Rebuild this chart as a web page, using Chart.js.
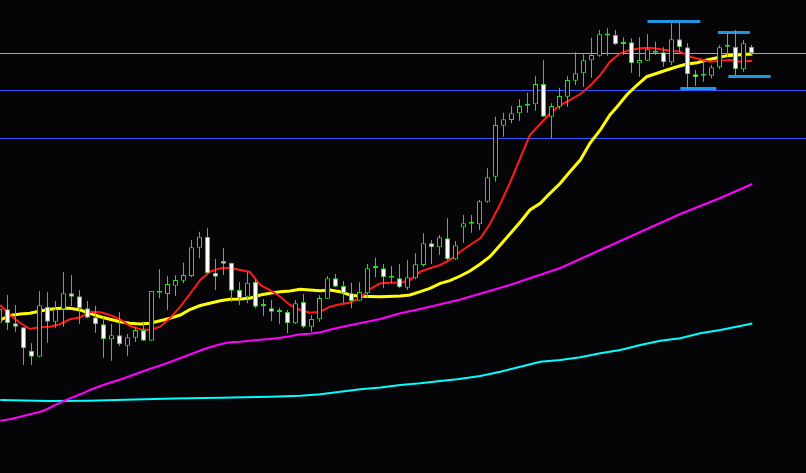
<!DOCTYPE html>
<html lang="en">
<head>
  <meta charset="UTF-8">
  <title>Candles</title>
  <script src="https://cdn.jsdelivr.net/npm/chart.js"></script>
  <style>
    html, body { margin: 0; padding: 0; background: #050508; }
    #wrap { width: 806px; height: 473px; }
  </style>
</head>
<body>
  <div id="wrap"><canvas id="myChart"></canvas></div>
  <script>
    // price units, bar index 0..94 (left to right)
    const opens = [
      150.3,163.7,149.7,145.7,122.3,116.3,166.3,151.3,163.7,179.7,
      176.7,164.7,155.7,148.7,133.7,137.7,127.3,135.3,143,132.3,
      180.3,179,187.3,192.3,197,225.3,236.3,200.3,212,210.3,
      183,176.3,191.3,167,164.7,161,161,149.7,171,146.3,
      153.7,174.3,194.7,187,179.7,172.3,179.7,205,204.7,195.3,
      194.7,185.3,194.7,208,229.7,225.7,234.7,213.7,245.7,249.3,
      248.7,271.3,296.3,347.3,353,359.7,367.3,368.7,389,356.3,
      366.3,376.3,392.3,399.7,412.7,417.3,437.5,438,431,430.7,
      409.7,412.3,422.3,420.7,410.7,433.7,425.7,398.7,397.3,397.3,
      405.7,426.3,426.3,403.7,426.3
    ];
    const highs = [
      168,178,168,145.7,129.7,182,181,172,201,198,
      183,172,167,156.3,149,160.7,139,145.7,151.3,182,
      203.7,197,197.7,210.3,233,241.3,245,214,225,210.3,
      191,200.7,193.7,174,173,165.3,163,173,179,158,
      177.7,197,199,192,190.3,190.7,209,215.3,209,207,
      209,213,219.7,239.7,233,238,254.7,232,258,258,
      273,304.7,356.3,360.3,367,373.7,380.3,397,413,369.7,
      385.3,397,420.7,418.7,435.3,443,444.7,443,435.7,434.7,
      435.7,439,431.3,425.7,449.7,450.3,429.7,403,412.3,408,
      428,439.7,443,433,428
    ];
    const lows = [
      145,143,141.3,108,108,115.7,130.3,145.3,146.3,167,
      149,154.7,140.3,115.3,112.3,127,117,131,132.3,132.3,
      174.7,163,177,189.7,195.7,214.7,199.7,183,198,171.3,
      168,169.7,164.7,157,152,149,139.7,149,144.7,141.3,
      151.3,174,186.3,170.3,164.7,172,175.3,195.7,184.7,189.7,
      184.7,183,193.7,206.3,209,218,213,213,230.3,240.3,
      243,270.3,291.3,336.3,349.7,352.3,360.3,362.3,356.3,334.7,
      363.7,366.3,388,386.3,395.3,416.3,417.3,428,418,400.3,
      396.3,412.3,418,406.3,408,421.3,384,387,391.3,394.7,
      403.7,416.3,398,401.3,418
    ];
    const closes = [
      164,149.7,146.3,124.7,116.3,167.7,151.3,163.7,179.7,176.3,
      164.7,155.3,148.7,133.7,137.7,128.7,135.7,143,132.3,182,
      180.3,189,193,198,225.7,236.3,199.7,196.3,209.3,182.3,
      174.7,190.3,166.3,167,161.3,162,149.7,169.7,146.3,154,
      175,194.7,186.3,179.7,172,181,204.7,205,195.7,195.3,
      185.7,195.7,208.7,229.7,225.7,235.7,213.7,227.7,249.7,249.3,
      271.7,295.7,348,353.7,359.7,367,367.3,389,356.3,367,
      377,393,399.7,412.7,418,438.7,437.5,428.7,428.7,409.7,
      413,423.7,420.3,410.7,433.7,425.7,398.7,395.7,397.3,405.7,
      425.7,426.3,403.7,429.7,419.7
    ];

    // moving averages: [bar index, price]
    const maFast = [
      [0.1,168],[1.3,158],[2.6,150],[3.8,144],[5.1,146],[6.3,146.3],[7.6,149],[8.8,153.7],
      [10.1,155.7],[11.3,161.3],[12.6,160.7],[13.8,158],[15.1,153.7],[16.3,147],[17.6,143.7],
      [18.8,143],[20.1,146.3],[21.3,154.7],[22.6,166.3],[23.8,179],[25.1,193],[26.3,201.3],
      [27.6,204.7],[28.8,205.3],[30.1,203],[31.3,201],[32.6,188],[33.8,183],[35.1,176.3],
      [36.3,168],[37.6,163],[38.8,160.3],[40.1,161.3],[41.3,166.3],[42.6,168.7],[43.8,170.3],
      [45.1,175],[46.3,184],[47.6,189.7],[48.8,190.3],[50.1,190.3],[51.3,193],[52.6,201.3],
      [53.8,204.7],[55.1,208],[56.3,213],[57.6,221.3],[58.8,228],[60.1,234.7],[61.3,249],
      [62.6,269],[63.8,290],[65.1,315],[66.3,338],[67.6,349.3],[68.8,359.3],[70.1,368],
      [71.3,373],[72.6,379],[73.8,387],[75.1,398],[76.3,411.3],[77.6,419.7],[78.8,423],
      [80.1,424.7],[81.3,425.3],[82.6,423.7],[83.8,422.3],[85.1,421.3],[86.3,416.3],
      [87.6,413.7],[88.8,411.3],[90.1,412.3],[91.3,413],[92.6,411.3],[94.1,412.3]
    ];
    const maMid = [
      [0.1,153],[1.3,157.5],[2.6,159],[3.8,159.7],[5.1,162],[6.3,163.7],[7.6,164.7],[8.8,164.7],
      [10.1,163],[11.3,159.7],[12.6,156.3],[13.8,153.7],[15.1,151.3],[16.3,149.7],[17.6,149],
      [18.8,149.7],[20.1,152.3],[21.3,154.7],[22.6,158],[23.8,163.5],[25.1,167.5],[26.3,169.7],
      [27.6,172.3],[28.8,173.7],[30.1,174],[31.3,174.7],[32.6,178],[33.8,179.7],[35.1,181.3],
      [36.3,182],[37.6,183.7],[38.8,183],[40.1,182.3],[41.3,183],[42.6,181.3],[43.8,178],
      [45.1,176.7],[47.6,176.3],[50.1,177],[51.3,178],[52.6,181.3],[53.8,184.7],[55.1,189.7],
      [56.3,192.3],[57.6,197],[58.8,202],[60.1,209],[61.3,216.3],[62.6,228],[63.8,239],
      [65.1,251],[66.3,263],[67.6,269.7],[68.8,279.7],[70.1,289.7],[71.3,301.3],[72.6,313],
      [73.8,329.7],[75.1,343],[76.3,358],[77.2,366.3],[78.4,378],[79.7,388],[80.9,396.3],
      [82.2,399.7],[83.4,403],[84.7,406.3],[85.9,409],[87.2,410.3],[88.4,413],[89.7,415.3],
      [90.9,417.3],[92.2,418],[93.4,418.7],[94.1,418.7]
    ];
    const maSlow = [
      [0.1,52.3],[1.3,53.7],[2.6,56.3],[3.8,58.7],[5.1,61.3],[5.9,63.7],[6.7,67],[7.6,70.3],
      [8.8,74.7],[10.1,78.7],[11.3,83],[12.6,87],[13.8,90.3],[15.1,93.5],[18.4,103],
      [20.9,109.7],[22.9,115.7],[25.1,122.5],[26.3,125.7],[27.6,128.7],[28.8,130.7],
      [30.1,131.3],[31.3,132.3],[32.6,133.3],[33.8,134],[35.1,135.3],[36.3,136.7],[37.6,138.7],
      [38.8,139.3],[40.1,140.7],[41.3,143.3],[42.6,145.7],[43.8,147.7],[47.6,154],[50.1,159.7],
      [52.6,164],[55.1,168.7],[57.6,173.5],[63.8,188],[70.1,205],[75.1,223],[80.1,241],
      [85.1,259],[90.1,275],[94.1,289]
    ];
    const maLong = [
      [0.1,73],[6.3,72],[11.1,72.3],[15.7,73.3],[21.9,74.5],[27.6,75.3],[33.8,76.3],[37.6,77.3],
      [40.1,78.7],[42.6,81.3],[45.1,83.7],[47.6,85.5],[50.1,88],[52.6,89.7],[55.1,92],
      [57.2,93.7],[60.1,97],[62.6,101.3],[65.1,106.3],[67.6,111.3],[70.1,113],[72.6,115.7],
      [75.1,119.7],[77.6,123],[80.1,128],[82.6,132.3],[85.1,134.7],[87.6,139.7],[90.1,143],
      [92.6,147],[94.1,149.5]
    ];

    // horizontal levels
    const greyLevel = 419.5;
    const blueLevels = [382.5, 334.5];
    // short marks: [from bar, to bar, price]
    const marks = [
      [81.0, 87.6, 451.5],
      [89.8, 93.8, 440.5],
      [91.1, 96.4, 396.5],
      [85.1, 89.6, 384.5]
    ];

    const xMin = 0.0625, xMax = 100.8125;
    const candleGreen = '#22dd22';

    const wickData = opens.map((o, i) => ({ x: i, y: [lows[i], highs[i]] }));
    const bodyData = opens.map((o, i) => ({ x: i, y: [o, closes[i]] }));
    const bodyFill = opens.map((o, i) => closes[i] < o ? '#ffffff' : '#000000');

    const pts = arr => arr.map(p => ({ x: p[0], y: p[1] }));
    const lineDs = (data, color, width, order) => ({
      type: 'line', data, borderColor: color, borderWidth: width,
      pointRadius: 0, tension: 0, fill: false, order
    });

    const datasets = [
      {
        type: 'bar', data: bodyData, grouped: false, barThickness: 5,
        backgroundColor: bodyFill, borderColor: candleGreen, borderWidth: 1,
        borderSkipped: false, inflateAmount: 0, minBarLength: 2, order: 0
      },
      {
        type: 'bar', data: wickData, grouped: false, barThickness: 1,
        backgroundColor: candleGreen, borderWidth: 0, inflateAmount: 0, order: 1
      },
      lineDs(pts(maFast), '#ff1a1a', 2, 3),
      lineDs(pts(maMid), '#ffff00', 3, 4),
      lineDs(pts(maSlow), '#ff00ff', 2, 5),
      lineDs(pts(maLong), '#00ffff', 2, 6),
      lineDs([{ x: xMin, y: greyLevel }, { x: xMax, y: greyLevel }], '#5cc4c4', 1, 7)
    ];
    blueLevels.forEach(v => {
      datasets.push(lineDs([{ x: xMin, y: v }, { x: xMax, y: v }], '#2c5cff', 1, 7));
    });
    marks.forEach(m => {
      datasets.push(lineDs([{ x: m[0], y: m[2] }, { x: m[1], y: m[2] }], '#1e96e0', 3, 2));
    });

    const ctx = document.getElementById('myChart').getContext('2d');
    new Chart(ctx, {
      type: 'bar',
      data: { datasets },
      options: {
        responsive: true,
        maintainAspectRatio: false,
        animation: false,
        events: [],
        layout: { padding: 0 },
        plugins: { legend: { display: false }, tooltip: { enabled: false } },
        scales: {
          x: { type: 'linear', min: xMin, max: xMax, offset: false, display: false },
          y: { type: 'linear', min: 0, max: 473, display: false }
        }
      }
    });
  </script>
</body>
</html>
